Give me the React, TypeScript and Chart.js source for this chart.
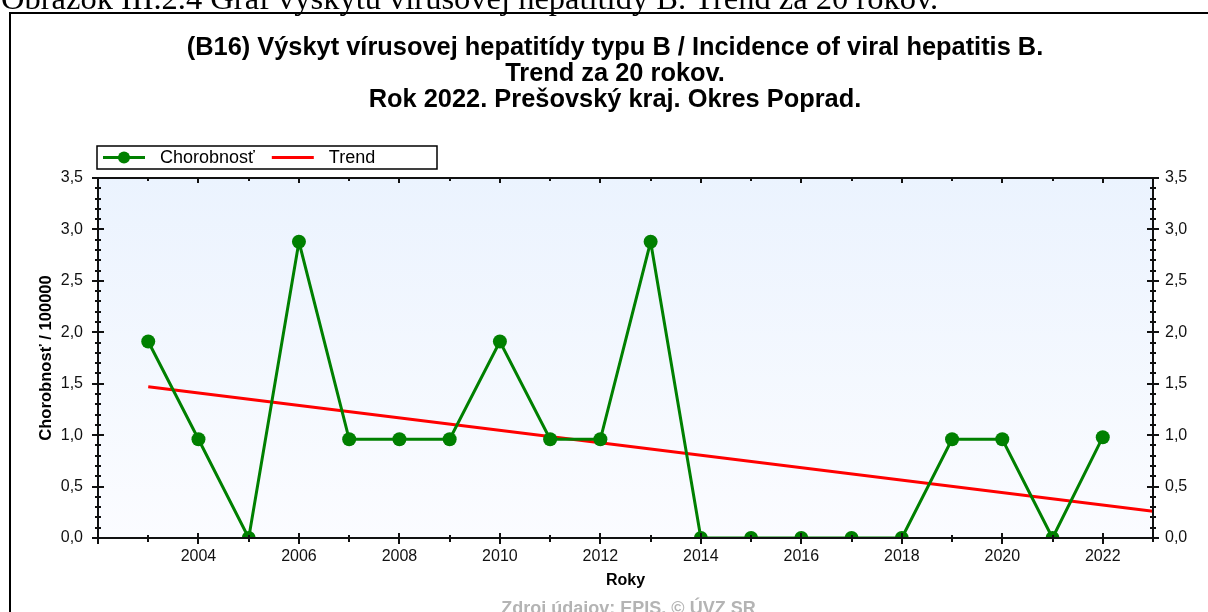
import React, { useEffect, useRef } from 'react';
import { Chart, registerables } from 'chart.js';

Chart.register(...registerables);

// ---------- data ----------
const years = [2003, 2004, 2005, 2006, 2007, 2008, 2009, 2010, 2011, 2012, 2013, 2014, 2015, 2016, 2017, 2018, 2019, 2020, 2021, 2022];
const incidence = [1.91, 0.96, 0, 2.88, 0.96, 0.96, 0.96, 1.91, 0.96, 0.96, 2.88, 0, 0, 0, 0, 0, 0.96, 0.96, 0, 0.98];
const trendYears = [2003, 2023];
const trendValues = [1.47, 0.26];
const seriesLabels = ['Chorobnosť', 'Trend'];
const xRange = [2002, 2023];
const yRange = [0, 3.5];
const yMajorStep = 0.5;
const yMinorStep = 0.1;
const xLabelStep = 2;

const titleLines = [
  '(B16) Výskyt vírusovej hepatitídy typu B / Incidence of viral hepatitis B.',
  'Trend za 20 rokov.',
  'Rok 2022. Prešovský kraj. Okres Poprad.',
];
const captionText = 'Obrázok III.2.4 Graf výskytu vírusovej hepatitídy B. Trend za 20 rokov.';
const sourceText = 'Zdroj údajov: EPIS, © ÚVZ SR';
const xAxisTitle = 'Roky';
const yAxisTitle = 'Chorobnosť / 100000';

const GREEN = '#008000';
const RED = '#ff0000';
const SANS = '"Liberation Sans", Arial, sans-serif';
const SERIF = '"Liberation Serif", "Times New Roman", serif';

const fmtY = (v: number) => v.toFixed(1).replace('.', ',');

const decorPlugin = {
  id: 'decor',
  beforeDraw(chart: any) {
    const { ctx, chartArea: a, width, height } = chart;
    ctx.save();
    ctx.fillStyle = '#ffffff';
    ctx.fillRect(0, 0, width, height);
    const g = ctx.createLinearGradient(0, a.top, 0, a.bottom);
    g.addColorStop(0, '#ebf3fe');
    g.addColorStop(1, '#fbfcff');
    ctx.fillStyle = g;
    ctx.fillRect(a.left, a.top, a.right - a.left, a.bottom - a.top);
    ctx.restore();
  },
  afterDraw(chart: any) {
    const { ctx, chartArea: a, scales } = chart;
    const xs = scales.x;
    const ys = scales.y;
    ctx.save();

    // plot frame
    ctx.strokeStyle = '#111111';
    ctx.lineWidth = 2;
    ctx.strokeRect(a.left, a.top, a.right - a.left, a.bottom - a.top);

    // y ticks (left & right)
    ctx.lineWidth = 2;
    ctx.beginPath();
    const nY = Math.round((yRange[1] - yRange[0]) / yMinorStep);
    for (let i = 0; i <= nY; i++) {
      const v = yRange[0] + i * yMinorStep;
      const py = Math.round(ys.getPixelForValue(v));
      const major = Math.abs(v / yMajorStep - Math.round(v / yMajorStep)) < 1e-6;
      const len = major ? 6 : 3;
      ctx.moveTo(a.left - len, py);
      ctx.lineTo(a.left + len, py);
      ctx.moveTo(a.right - len, py);
      ctx.lineTo(a.right + len, py);
    }
    // x ticks (bottom crossing, top inward)
    for (let yr = xRange[0]; yr <= xRange[1]; yr++) {
      const px = Math.round(xs.getPixelForValue(yr));
      const major = yr % xLabelStep === 0;
      ctx.moveTo(px, a.bottom - (major ? 5 : 3));
      ctx.lineTo(px, a.bottom + (major ? 6 : 4));
      ctx.moveTo(px, a.top);
      ctx.lineTo(px, a.top + (major ? 5 : 3));
    }
    ctx.stroke();

    // legend
    const lx = 97, ly = 146, lw = 340, lh = 23;
    ctx.fillStyle = '#ffffff';
    ctx.fillRect(lx, ly, lw, lh);
    ctx.strokeStyle = '#000000';
    ctx.lineWidth = 1.5;
    ctx.strokeRect(lx, ly, lw, lh);
    ctx.font = '18px ' + SANS;
    ctx.textBaseline = 'middle';
    ctx.textAlign = 'left';
    let cx = lx + 6;
    const cy = ly + lh / 2;
    chart.data.datasets.forEach((ds: any) => {
      const sw = 42;
      ctx.strokeStyle = ds.borderColor;
      ctx.lineWidth = 3;
      ctx.beginPath();
      ctx.moveTo(cx, cy);
      ctx.lineTo(cx + sw, cy);
      ctx.stroke();
      if (ds.pointRadius > 0) {
        ctx.fillStyle = ds.pointBackgroundColor;
        ctx.beginPath();
        ctx.arc(cx + sw / 2, cy, 6, 0, Math.PI * 2);
        ctx.fill();
      }
      cx += sw + 15;
      ctx.fillStyle = '#000000';
      ctx.fillText(ds.label, cx, cy + 1);
      cx += ctx.measureText(ds.label).width + 17;
    });

    // caption above the figure frame (cut off by the page top)
    ctx.fillStyle = '#000000';
    ctx.font = '32.5px ' + SERIF;
    ctx.textBaseline = 'alphabetic';
    ctx.textAlign = 'left';
    ctx.fillText(captionText, 1, 9);

    // outer figure frame
    ctx.fillStyle = '#000000';
    ctx.fillRect(9, 12, chart.width - 9, 2);
    ctx.fillRect(9, 12, 2, chart.height - 12);

    // source
    ctx.fillStyle = '#b4b4b4';
    ctx.font = 'bold 18px ' + SANS;
    ctx.textAlign = 'center';
    ctx.fillText(sourceText, (a.left + a.right) / 2 + 3, 614);

    ctx.restore();
  },
};

export default function App() {
  const ref = useRef<HTMLCanvasElement | null>(null);

  useEffect(() => {
    let chart: Chart | null = null;
    let cancelled = false;
    const fontLoads = [
      'bold 25px "Liberation Sans"',
      '18px "Liberation Sans"',
      '16px "Liberation Sans"',
      '32px "Liberation Serif"',
    ].map((f) => (document as any).fonts?.load(f).catch(() => null));

    Promise.all(fontLoads).then(() => {
      if (cancelled || !ref.current) return;
      Chart.defaults.font.family = SANS;
      chart = new Chart(ref.current, {
        type: 'line',
        data: {
          datasets: [
            {
              label: seriesLabels[0],
              data: years.map((x, i) => ({ x, y: incidence[i] })),
              borderColor: GREEN,
              backgroundColor: GREEN,
              pointBackgroundColor: GREEN,
              pointBorderColor: GREEN,
              borderWidth: 3,
              pointRadius: 7,
              pointBorderWidth: 0,
              tension: 0,
              clip: { left: 10, right: 10, top: 10, bottom: 0 } as any,
            },
            {
              label: seriesLabels[1],
              data: trendYears.map((x, i) => ({ x, y: trendValues[i] })),
              borderColor: RED,
              backgroundColor: RED,
              pointBackgroundColor: RED,
              borderWidth: 3,
              pointRadius: 0,
              tension: 0,
              clip: 0 as any,
            },
          ],
        },
        options: {
          animation: false,
          responsive: false,
          devicePixelRatio: 1,
          layout: { padding: { left: 22, right: 0, top: 0, bottom: 0 } },
          plugins: {
            legend: { display: false },
            tooltip: { enabled: false },
            title: {
              display: true,
              text: titleLines,
              color: '#000000',
              font: { family: SANS, size: 25.4, weight: 'bold', lineHeight: 26 / 25.4 },
              padding: { top: 34.5, bottom: 65.5 },
            },
          },
          scales: {
            x: {
              type: 'linear',
              position: 'bottom',
              min: xRange[0],
              max: xRange[1],
              grid: { display: false, drawTicks: false },
              border: { display: false },
              ticks: {
                stepSize: 1,
                autoSkip: false,
                maxRotation: 0,
                padding: 9,
                color: '#111111',
                font: { family: SANS, size: 16 },
                callback: (v: any) => (Number(v) % xLabelStep === 0 && Number(v) > xRange[0] ? String(v) : ''),
              },
              title: {
                display: true,
                text: xAxisTitle,
                color: '#000000',
                font: { family: SANS, size: 16, weight: 'bold' },
                padding: { top: 0, bottom: 21.4 },
              },
              afterFit: (s: any) => {
                s.height = 74;
              },
            },
            y: {
              type: 'linear',
              position: 'left',
              min: yRange[0],
              max: yRange[1],
              grid: { display: false, drawTicks: false },
              border: { display: false },
              ticks: {
                stepSize: yMajorStep,
                padding: 15,
                color: '#111111',
                font: { family: SANS, size: 16 },
                callback: (v: any) => fmtY(Number(v)),
              },
              title: {
                display: true,
                text: yAxisTitle,
                color: '#000000',
                font: { family: SANS, size: 16.6, weight: 'bold' },
                padding: { top: 14, bottom: 0 },
              },
              afterFit: (s: any) => {
                s.width = 76;
              },
            },
            y2: {
              type: 'linear',
              position: 'right',
              min: yRange[0],
              max: yRange[1],
              grid: { display: false, drawTicks: false },
              border: { display: false },
              ticks: {
                stepSize: yMajorStep,
                padding: 12,
                color: '#111111',
                font: { family: SANS, size: 16 },
                callback: (v: any) => fmtY(Number(v)),
              },
              afterFit: (s: any) => {
                s.width = 55;
              },
            },
          },
        } as any,
        plugins: [decorPlugin as any],
      });
    });

    return () => {
      cancelled = true;
      if (chart) chart.destroy();
    };
  }, []);

  return (
    <div style={{ position: 'absolute', left: 0, top: 0, width: 1208, height: 612, overflow: 'hidden', background: '#fff' }}>
      <canvas ref={ref} width={1208} height={612} style={{ display: 'block', width: 1208, height: 612 }} />
    </div>
  );
}
